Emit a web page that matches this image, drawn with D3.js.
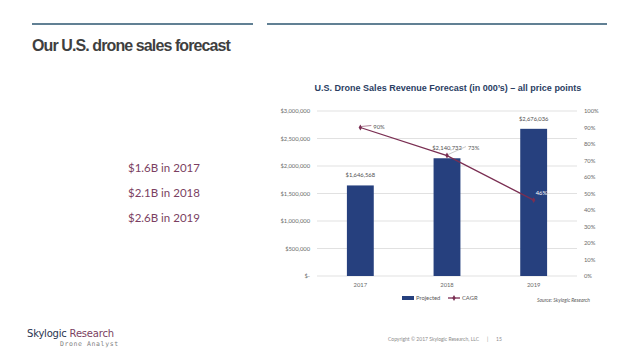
<!DOCTYPE html>
<html><head><meta charset="utf-8">
<script src="https://cdn.jsdelivr.net/npm/d3@7"></script>
<style>body{margin:0;background:#fff}svg{display:block}</style>
</head><body>
<svg id="c" width="638" height="359"></svg>
<script>
const categories = ["2017", "2018", "2019"];
const projected = [1646568, 2140732, 2676036];
const cagr = [0.90, 0.73, 0.46];
const barLabels = ["$1,646,568", "$2,140,732", "$2,676,036"];
const cagrLabels = ["90%", "73%", "46%"];
const leftTicks = [0, 500000, 1000000, 1500000, 2000000, 2500000, 3000000];
const leftTickLabels = ["$-", "$500,000", "$1,000,000", "$1,500,000", "$2,000,000", "$2,500,000", "$3,000,000"];
const rightTicks = [0, 0.1, 0.2, 0.3, 0.4, 0.5, 0.6, 0.7, 0.8, 0.9, 1.0];
const highlights = ["$1.6B in 2017", "$2.1B in 2018", "$2.6B in 2019"];

const svg = d3.select("#c");
const font = "'Liberation Sans', Arial, sans-serif";
const cfont = "Lato, 'Open Sans', sans-serif";

// header lines
svg.append("line").attr("x1",32).attr("x2",253).attr("y1",24).attr("y2",24).attr("stroke","#2d5670").attr("stroke-width",1.5);
svg.append("line").attr("x1",267).attr("x2",607).attr("y1",24).attr("y2",24).attr("stroke","#2d5670").attr("stroke-width",1.5);
svg.append("text").attr("x",32).attr("y",51).attr("font-family",font).attr("font-weight","bold")
  .attr("font-size",16).attr("letter-spacing",-0.9).attr("fill","#3f3f3f").text("Our U.S. drone sales forecast");

// highlights
svg.selectAll("text.hl").data(highlights).join("text").attr("class","hl")
  .attr("x",128).attr("y",(d,i)=>172+i*25).attr("font-family",cfont).attr("font-size",11.5)
  .attr("fill","#7b3f62").text(d=>d);

// chart
const x0 = 317, x1 = 577, yTop = 111, yBot = 276;
const x = d3.scaleBand().domain(categories).range([x0,x1]).paddingInner(0.69).paddingOuter(0.345);
const y = d3.scaleLinear().domain([0,3000000]).range([yBot,yTop]);
const y2 = d3.scaleLinear().domain([0,1]).range([yBot,yTop]);

svg.append("text").attr("x",448).attr("y",91).attr("text-anchor","middle").attr("font-family",font)
  .attr("font-weight","bold").attr("font-size",9).attr("fill","#2b3e63")
  .text("U.S. Drone Sales Revenue Forecast (in 000’s) – all price points");

// gridlines
svg.append("g").selectAll("line").data(leftTicks).join("line")
  .attr("x1",x0).attr("x2",x1).attr("y1",d=>y(d)).attr("y2",d=>y(d)).attr("stroke","#d9d9d9").attr("stroke-width",0.8);

// left axis
const la = d3.axisLeft(y).tickValues(leftTicks).tickFormat((d,i)=>leftTickLabels[i]).tickSize(0).tickPadding(7);
const lg = svg.append("g").attr("transform",`translate(${x0},0)`).call(la);
lg.select(".domain").remove();
lg.selectAll("text").attr("font-family",cfont).attr("font-size",5.8).attr("fill","#6a6a6a");

// right axis
const ra = d3.axisRight(y2).tickValues(rightTicks).tickFormat(d3.format(".0%")).tickSize(0).tickPadding(7);
const rg = svg.append("g").attr("transform",`translate(${x1},0)`).call(ra);
rg.select(".domain").remove();
rg.selectAll("text").attr("font-family",cfont).attr("font-size",5.8).attr("fill","#6a6a6a");

// x axis
const xa = d3.axisBottom(x).tickSize(0).tickPadding(7);
const xg = svg.append("g").attr("transform",`translate(0,${yBot})`).call(xa);
xg.select(".domain").remove();
xg.selectAll("text").attr("font-family",cfont).attr("font-size",5.8).attr("fill","#6a6a6a");

// bars
svg.selectAll("rect.bar").data(projected).join("rect").attr("class","bar")
  .attr("x",(d,i)=>x(categories[i])).attr("width",x.bandwidth())
  .attr("y",d=>y(d)).attr("height",d=>yBot-y(d)).attr("fill","#26407e");

svg.selectAll("text.bl").data(projected).join("text").attr("class","bl")
  .attr("x",(d,i)=>x(categories[i])+x.bandwidth()/2).attr("y",d=>y(d)-8)
  .attr("text-anchor","middle").attr("font-family",cfont).attr("font-size",5.8).attr("fill","#505050")
  .text((d,i)=>barLabels[i]);

// line
const cx = i => x(categories[i]) + x.bandwidth()/2;
const line = d3.line().x((d,i)=>cx(i)).y(d=>y2(d));
svg.append("path").datum(cagr).attr("d",line).attr("fill","none").attr("stroke","#7a2e52").attr("stroke-width",1.3);
svg.selectAll("path.mk").data(cagr).join("path").attr("class","mk")
  .attr("d",d3.symbol().type(d3.symbolDiamond).size(10))
  .attr("transform",(d,i)=>`translate(${cx(i)},${y2(d)})`).attr("fill","#7a2e52");

// cagr labels with leader lines
const lblOff = [[13,-1],[21,-8],[2,-7]];
cagr.forEach((d,i)=>{
  const px = cx(i), py = y2(d);
  const lx = px + lblOff[i][0], ly = py + lblOff[i][1];
  if (i < 2) {
    svg.append("line").attr("x1",px+1).attr("y1",py-1).attr("x2",lx-2).attr("y2",ly-1)
      .attr("stroke", i===0 ? "#7a2e52" : "#a6a6a6").attr("stroke-width",0.6);
  }
  svg.append("text").attr("x",lx).attr("y",ly+2).attr("font-family",cfont).attr("font-size",5.8)
    .attr("fill", i===2 ? "#ffffff" : "#595959").text(cagrLabels[i]);
});

// legend
svg.append("rect").attr("x",402).attr("y",296).attr("width",12).attr("height",4).attr("fill","#26407e");
svg.append("text").attr("x",416).attr("y",300).attr("font-family",cfont).attr("font-size",5.8).attr("fill","#595959").text("Projected");
svg.append("line").attr("x1",448).attr("x2",460).attr("y1",298).attr("y2",298).attr("stroke","#7a2e52").attr("stroke-width",1.3);
svg.append("path").attr("d",d3.symbol().type(d3.symbolDiamond).size(10)).attr("transform","translate(454,298)").attr("fill","#7a2e52");
svg.append("text").attr("x",462).attr("y",300).attr("font-family",cfont).attr("font-size",5.8).attr("fill","#595959").text("CAGR");
svg.append("text").attr("x",590).attr("y",302).attr("text-anchor","end").attr("font-family",cfont).attr("font-style","italic")
  .attr("font-size",5).attr("fill","#595959").text("Source: Skylogic Research");

// footer
const lt = svg.append("text").attr("x",27).attr("y",337).attr("font-family","'DejaVu Sans', sans-serif").attr("font-size",10).attr("letter-spacing",-0.2);
lt.append("tspan").attr("fill","#2a3550").text("Skylogic ");
lt.append("tspan").attr("fill","#7b3f62").text("Research");
svg.append("text").attr("x",60).attr("y",346).attr("font-family","'DejaVu Sans Mono', monospace").attr("font-size",6.5)
  .attr("letter-spacing",0.6).attr("fill","#7f7f7f").text("Drone Analyst");
svg.append("text").attr("x",388).attr("y",341).attr("font-family",cfont).attr("font-size",5).attr("fill","#8c8c8c").text("Copyright © 2017 Skylogic Research, LLC");
svg.append("text").attr("x",487).attr("y",341).attr("font-family",cfont).attr("font-size",5).attr("fill","#8c8c8c").text("|");
svg.append("text").attr("x",496).attr("y",341).attr("font-family",cfont).attr("font-size",5).attr("fill","#8c8c8c").text("15");
</script>
</body></html>
